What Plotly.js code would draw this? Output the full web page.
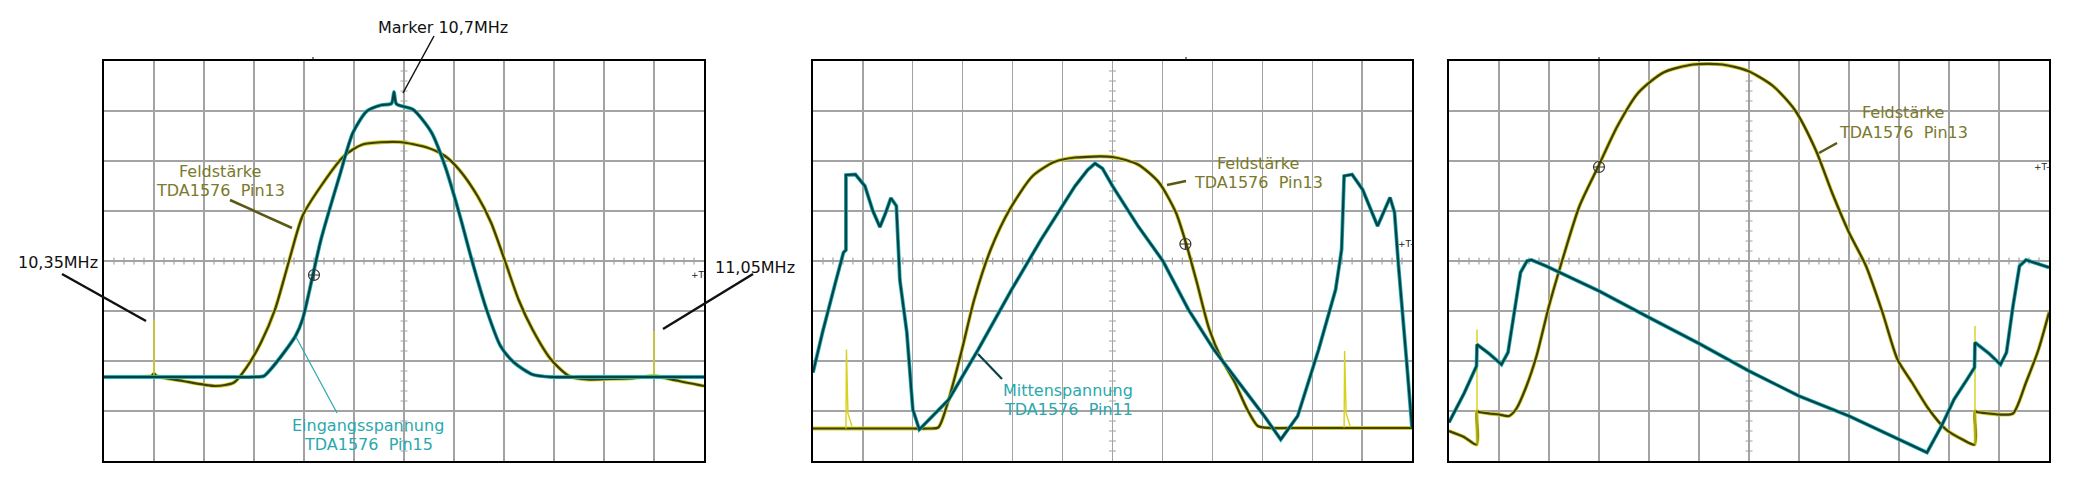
<!DOCTYPE html>
<html>
<head>
<meta charset="utf-8">
<script src="https://cdn.plot.ly/plotly-3.0.1.min.js"></script>
<style>html,body{margin:0;padding:0;background:#fff;}#chart{width:2080px;height:496px;}</style>
</head>
<body>
<div id="chart"></div>
<script>
// ---------- Panel 1: Feldstärke (yellow) & Eingangsspannung (cyan) ----------
const p1CyanX = [0, 1.0, 2.0, 2.6, 3.0, 3.2, 3.33, 3.6, 3.83, 3.97, 4.18, 4.34, 4.71, 4.98, 5.26, 5.55, 5.75, 5.8, 5.85, 6.18, 6.55, 6.82, 7.1, 7.37, 7.65, 7.93, 8.2, 8.57, 8.94, 9.5, 10.5, 11.5, 12];
const p1CyanY = [-2.32, -2.32, -2.32, -2.32, -2.32, -2.3, -2.17, -1.83, -1.5, -1.17, -0.27, 0.43, 1.7, 2.57, 3.0, 3.12, 3.15, 3.38, 3.14, 3.03, 2.57, 1.9, 0.97, -0.03, -0.97, -1.7, -2.03, -2.27, -2.32, -2.32, -2.32, -2.32, -2.32];
const p1YellowX = [0, 0.5, 0.95, 1.0, 1.05, 1.58, 2.23, 2.6, 2.87, 3.14, 3.42, 3.7, 3.97, 4.34, 4.8, 5.17, 5.9, 6.46, 6.82, 7.1, 7.47, 7.74, 8.02, 8.29, 8.57, 8.94, 9.3, 9.67, 10.1, 10.5, 10.96, 11.04, 11.4, 12];
const p1YellowY = [-2.32, -2.32, -2.3, -2.25, -2.3, -2.4, -2.5, -2.43, -2.1, -1.63, -0.97, 0.0, 0.9, 1.5, 2.1, 2.33, 2.38, 2.27, 2.1, 1.83, 1.3, 0.77, 0.0, -0.77, -1.37, -1.97, -2.3, -2.37, -2.36, -2.35, -2.3, -2.3, -2.38, -2.5];
const p1SpikeX = [1.0, 1.0, null, 11.0, 11.0];
const p1SpikeY = [-2.3, -1.17, null, -2.3, -1.4];
const p1CursorX = [4.2], p1CursorY = [-0.28];

// ---------- Panel 2: Feldstärke (yellow) & Mittenspannung (cyan) ----------
const p2CyanX = [0, 0.19, 0.45, 0.61, 0.66, 0.66, 0.85, 1.04, 1.2, 1.34, 1.45, 1.56, 1.67, 1.74, 1.88, 2.0, 2.13, 2.72, 3.31, 3.98, 4.57, 5.25, 5.5, 5.65, 5.8, 6.0, 6.51, 7.01, 7.52, 8.03, 8.53, 9.04, 9.37, 9.71, 10.13, 10.47, 10.59, 10.64, 10.8, 11.01, 11.31, 11.56, 11.65, 11.73, 11.9, 12];
const p2CyanY = [-2.23, -1.43, -0.43, 0.17, 0.22, 1.72, 1.73, 1.5, 1.0, 0.68, 0.95, 1.26, 1.1, -0.38, -1.43, -2.97, -3.37, -2.77, -1.77, -0.57, 0.43, 1.5, 1.82, 1.95, 1.85, 1.5, 0.7, 0.0, -0.97, -1.77, -2.43, -3.1, -3.57, -3.1, -1.77, -0.57, 0.23, 1.7, 1.73, 1.43, 0.7, 1.27, 0.97, -0.1, -2.1, -3.33];
const p2YellowX = [0, 0.5, 1.0, 1.5, 2.0, 2.3, 2.51, 2.68, 2.97, 3.23, 3.56, 3.94, 4.4, 4.83, 5.25, 6.0, 6.51, 6.93, 7.27, 7.48, 7.69, 7.94, 8.19, 8.45, 8.7, 8.91, 9.15, 9.5, 10.0, 10.5, 11.0, 11.5, 12];
const p2YellowY = [-3.35, -3.35, -3.35, -3.35, -3.35, -3.35, -3.33, -2.9, -1.83, -0.77, 0.23, 1.03, 1.7, 1.98, 2.07, 2.08, 1.93, 1.57, 0.97, 0.33, -0.43, -1.37, -1.97, -2.43, -2.97, -3.3, -3.34, -3.34, -3.34, -3.34, -3.34, -3.34, -3.34];
const p2SpikeX = [0.66, 0.67, 0.7, 0.78, null, 10.64, 10.65, 10.68, 10.76];
const p2SpikeY = [-3.35, -1.77, -3.05, -3.3, null, -3.33, -1.8, -3.05, -3.3];
const p2CursorX = [7.46], p2CursorY = [0.34];

// ---------- Panel 3: Feldstärke (yellow) & second channel (cyan) ----------
const p3YellowX = [0, 0.3, 0.55, 0.56, 0.6, 0.8, 1.0, 1.2, 1.35, 1.55, 1.75, 2.0, 2.27, 2.61, 2.99, 3.37, 3.79, 4.29, 4.88, 5.47, 5.98, 6.48, 6.91, 7.33, 7.66, 8.0, 8.34, 8.67, 8.97, 9.26, 9.6, 9.94, 10.27, 10.51, 10.52, 10.56, 10.8, 11.0, 11.28, 11.54, 11.79, 12];
const p3YellowY = [-3.4, -3.52, -3.67, -3.0, -3.02, -3.05, -3.07, -3.1, -2.95, -2.5, -1.9, -0.9, 0.03, 1.1, 1.9, 2.7, 3.37, 3.77, 3.93, 3.93, 3.8, 3.5, 3.03, 2.23, 1.37, 0.57, -0.1, -1.03, -1.97, -2.43, -2.97, -3.37, -3.57, -3.67, -3.0, -3.02, -3.05, -3.07, -3.05, -2.43, -1.77, -1.03];
const p3CyanX = [0, 0.3, 0.55, 0.56, 0.8, 1.05, 1.18, 1.31, 1.43, 1.56, 1.65, 1.94, 3.0, 4.0, 5.0, 6.0, 7.0, 8.0, 9.0, 9.56, 9.85, 10.1, 10.36, 10.51, 10.52, 10.8, 11.03, 11.15, 11.28, 11.41, 11.54, 12];
const p3CyanY = [-3.23, -2.65, -2.1, -1.67, -1.85, -2.07, -1.83, -0.97, -0.23, 0.0, 0.02, -0.1, -0.6, -1.13, -1.65, -2.2, -2.7, -3.1, -3.57, -3.83, -3.3, -2.77, -2.37, -2.13, -1.63, -1.85, -2.07, -1.83, -0.9, -0.1, 0.02, -0.13];
const p3SpikeX = [0.56, 0.56, null, 10.52, 10.52];
const p3SpikeY = [-3.67, -1.37, null, -3.67, -1.3];
const p3CursorX = [3.0], p3CursorY = [1.88];

// ---------- Styles ----------
const YEL_BRIGHT = '#d6d21c', YEL_DARK = '#3e3d15';
const CYA_BRIGHT = '#1cb3b8', CYA_DARK = '#0b4045';
const OLIVE_TXT = '#7a792c', CYAN_TXT = '#2aa8ad';
const W = 2080, H = 496;

const panels = [
  {ax: '', yel: [p1YellowX, p1YellowY], cya: [p1CyanX, p1CyanY], spk: [p1SpikeX, p1SpikeY], cur: [p1CursorX, p1CursorY], dom: [104, 704], ys: 'spline', cs: 'spline'},
  {ax: '2', yel: [p2YellowX, p2YellowY], cya: [p2CyanX, p2CyanY], spk: [p2SpikeX, p2SpikeY], cur: [p2CursorX, p2CursorY], dom: [813, 1412], ys: 'spline', cs: 'linear'},
  {ax: '3', yel: [p3YellowX, p3YellowY], cya: [p3CyanX, p3CyanY], spk: [p3SpikeX, p3SpikeY], cur: [p3CursorX, p3CursorY], dom: [1449, 2049], ys: 'spline', cs: 'linear'}
];

const data = [];
const layout = {
  width: W, height: H,
  margin: {l: 0, r: 0, t: 0, b: 0},
  paper_bgcolor: '#ffffff', plot_bgcolor: '#ffffff',
  showlegend: false,
  font: {family: 'DejaVu Sans, Verdana, sans-serif', size: 16, color: '#111'},
  shapes: [], annotations: []
};

const yDom = [35 / H, 435 / H];
panels.forEach(p => {
  const xa = 'x' + p.ax, ya = 'y' + p.ax;
  const line = (xy, color, width, shape) => ({x: xy[0], y: xy[1], xaxis: xa, yaxis: ya, mode: 'lines', type: 'scatter',
    line: {color: color, width: width, shape: shape || 'linear', smoothing: 0.7}, hoverinfo: 'skip', connectgaps: false});
  data.push(line(p.yel, YEL_BRIGHT, 3.8, p.ys));
  data.push(line(p.yel, YEL_DARK, 2.2, p.ys));
  data.push(line(p.spk, YEL_BRIGHT, 1.4));
  data.push(line(p.cya, CYA_BRIGHT, 3.8, p.cs));
  data.push(line(p.cya, CYA_DARK, 2.2, p.cs));
  data.push({x: p.cur[0], y: p.cur[1], xaxis: xa, yaxis: ya, mode: 'markers', type: 'scatter', hoverinfo: 'skip',
    marker: {symbol: 'circle-cross-open', size: 11, color: '#333', line: {width: 1.2, color: '#333'}}});

  layout['xaxis' + p.ax] = {domain: [p.dom[0] / W, p.dom[1] / W], anchor: ya, range: [0, 12], dtick: 1, tick0: 0,
    showgrid: true, gridcolor: '#a3a3a3', gridwidth: 1.2, zeroline: false, showticklabels: false, ticks: '',
    showline: true, mirror: true, linecolor: '#000', linewidth: 2, fixedrange: true};
  layout['yaxis' + p.ax] = {domain: yDom, anchor: xa, range: [-4, 4], dtick: 1, tick0: 0,
    showgrid: true, gridcolor: '#a3a3a3', gridwidth: 1.2, zeroline: false, showticklabels: false, ticks: '',
    showline: true, mirror: true, linecolor: '#000', linewidth: 2, fixedrange: true};

  // graticule minor ticks along the center lines
  let path = '';
  for (let i = 1; i < 60; i++) { const x = i * 0.2; path += `M${x},-0.07L${x},0.07`; }
  for (let j = 1; j < 40; j++) { const y = -4 + j * 0.2; path += `M5.93,${y}L6.07,${y}`; }
  layout.shapes.push({type: 'path', xref: xa, yref: ya, path: path, line: {color: '#a3a3a3', width: 1.2}, layer: 'below'});
});

// paper helpers (pixel -> paper)
const px = v => v / W, py = v => 1 - v / H;
const seg = (x0, y0, x1, y1, color, width) => layout.shapes.push({type: 'line', xref: 'paper', yref: 'paper',
  x0: px(x0), y0: py(y0), x1: px(x1), y1: py(y1), line: {color: color, width: width}});
const txt = (x, y, t, color, size) => layout.annotations.push({xref: 'paper', yref: 'paper', x: px(x), y: py(y),
  text: t, showarrow: false, xanchor: 'center', yanchor: 'middle', font: {family: 'DejaVu Sans, Verdana, sans-serif', size: size || 16, color: color}});

// trigger ticks at the top border
[[313], [1186], [1599]].forEach(v => seg(v[0], 57, v[0], 61, '#000', 1));

// Panel 1 labels
txt(443, 27, 'Marker 10,7MHz', '#111');
seg(434, 36, 403, 93, '#111', 1.5);
txt(58, 262, '10,35MHz', '#111');
seg(62, 274, 146, 321, '#111', 2.5);
txt(755, 267, '11,05MHz', '#111');
seg(753, 274, 663, 329, '#111', 2.5);
txt(220, 171, 'Feldstärke', OLIVE_TXT);
txt(220, 190, 'TDA1576&nbsp;&nbsp;Pin13', OLIVE_TXT);
seg(230, 200, 292, 228, '#5a5914', 2.5);
txt(368, 425, 'Eingangsspannung', CYAN_TXT);
txt(368, 444, 'TDA1576&nbsp;&nbsp;Pin15', CYAN_TXT);
seg(296, 337, 337, 413, CYAN_TXT, 1.2);
txt(698, 275, '+T-', '#222', 9);

// Panel 2 labels
txt(1258, 163, 'Feldstärke', OLIVE_TXT);
txt(1258, 182, 'TDA1576&nbsp;&nbsp;Pin13', OLIVE_TXT);
seg(1167, 185, 1186, 181, '#5a5914', 2.5);
txt(1068, 390, 'Mittenspannung', CYAN_TXT);
txt(1068, 409, 'TDA1576&nbsp;&nbsp;Pin11', CYAN_TXT);
seg(978, 354, 1002, 379, CYA_DARK, 2.2);
txt(1405, 244, '+T-', '#222', 9);

// Panel 3 labels
txt(1903, 113, 'Feldstärke', OLIVE_TXT);
txt(1903, 133, 'TDA1576&nbsp;&nbsp;Pin13', OLIVE_TXT);
seg(1837, 143, 1819, 153, '#5a5914', 2.5);
txt(2041, 167, '+T-', '#222', 9);

Plotly.newPlot('chart', data, layout, {staticPlot: true, displayModeBar: false});
</script>
</body>
</html>
